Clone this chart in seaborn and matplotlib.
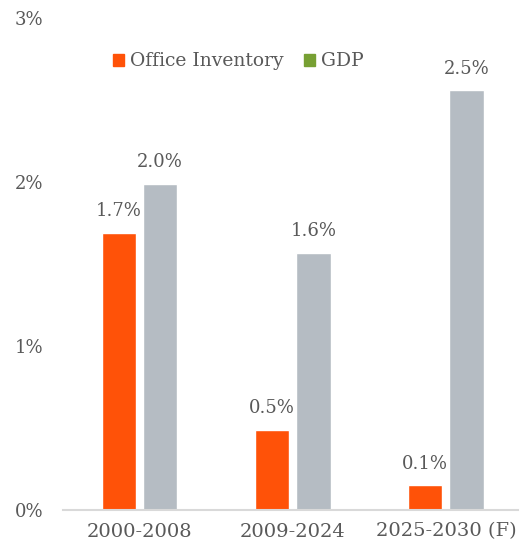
import matplotlib

matplotlib.use("Agg")
import matplotlib.pyplot as plt
import matplotlib.patches as mpatches
import numpy as np
import pandas as pd
import seaborn as sns

# Values
periods = ["2000-2008", "2009-2024", "2025-2030 (F)"]
office_inventory = [1.69, 0.49, 0.15]
gdp = [1.99, 1.57, 2.56]
office_labels = ["1.7%", "0.5%", "0.1%"]
gdp_labels = ["2.0%", "1.6%", "2.5%"]
y_ticks = [0, 1, 2, 3]
y_tick_labels = ["0%", "1%", "2%", "3%"]

ORANGE = "#FF5208"
GREY = "#B5BCC3"
GREEN = "#77A033"
TEXT = "#595959"

df = pd.DataFrame(
    {
        "Period": periods * 2,
        "Growth": office_inventory + gdp,
        "Series": ["Office Inventory"] * 3 + ["GDP"] * 3,
    }
)

sns.set_theme(style="white")
plt.rcParams["font.family"] = ["DejaVu Serif"]

fig = plt.figure(figsize=(5.2, 5.49), dpi=100)
ax = fig.add_axes([0.121, 0.071, 0.875, 0.896])

sns.barplot(
    data=df,
    x="Period",
    y="Growth",
    hue="Series",
    palette=[ORANGE, GREY],
    width=0.54,
    gap=0.17,
    saturation=1,
    legend=False,
    ax=ax,
)

# value labels above each bar
for container, labels in zip(ax.containers, [office_labels, gdp_labels]):
    for bar, lab in zip(container, labels):
        ax.annotate(
            lab,
            (bar.get_x() + bar.get_width() / 2, bar.get_height()),
            xytext=(0, 9),
            textcoords="offset points",
            ha="center",
            va="bottom",
            fontsize=13,
            color=TEXT,
        )

ax.set_ylim(0, 3)
ax.set_xlim(-0.5, 2.47)
ax.set_yticks(y_ticks)
ax.set_yticklabels(y_tick_labels)
ax.set_xlabel("")
ax.set_ylabel("")
ax.tick_params(axis="y", length=0, labelsize=13, colors=TEXT, pad=14)
ax.tick_params(axis="x", length=0, labelsize=14, colors=TEXT, pad=9)

sns.despine(ax=ax, left=True)
ax.spines["bottom"].set_color("#D9D9D9")
ax.spines["bottom"].set_linewidth(1.5)

handles = [
    mpatches.Patch(color=ORANGE, label="Office Inventory"),
    mpatches.Patch(color=GREEN, label="GDP"),
]
leg = ax.legend(
    handles=handles,
    loc="center",
    bbox_to_anchor=(0.385, 0.912),
    ncol=2,
    frameon=False,
    fontsize=13.5,
    handlelength=0.6,
    handleheight=0.6,
    handletextpad=0.3,
    columnspacing=1.1,
)
for t in leg.get_texts():
    t.set_color(TEXT)

fig.savefig("out.png", dpi=100)
